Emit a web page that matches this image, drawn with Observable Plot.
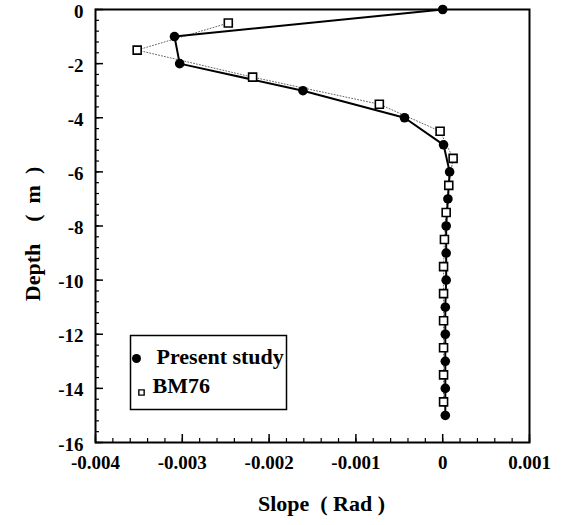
<!DOCTYPE html>
<html><head><meta charset="utf-8">
<script src="https://cdn.jsdelivr.net/npm/d3@7"></script>
<script src="https://cdn.jsdelivr.net/npm/@observablehq/plot@0.6"></script>
<style>body{margin:0;background:#fff}</style>
</head><body><div id="chart"></div>
<script>
// Present study (filled circles, solid line)
const presentDepth = [0, -1, -2, -3, -4, -5, -6, -7, -8, -9, -10, -11, -12, -13, -14, -15];
const presentSlope = [0, -0.00309, -0.00303, -0.00161, -0.00044, 0.00001, 0.00008, 0.00006, 0.00004, 0.00004, 0.00004, 0.00003, 0.00003, 0.00003, 0.00003, 0.00003];
// BM76 (open squares, dotted line)
const bmDepth = [-0.5, -1.5, -2.5, -3.5, -4.5, -5.5, -6.5, -7.5, -8.5, -9.5, -10.5, -11.5, -12.5, -13.5, -14.5];
const bmSlope = [-0.00247, -0.00352, -0.00219, -0.00073, -0.00003, 0.00012, 0.00007, 0.00004, 0.00002, 0.00001, 0.00001, 0.00001, 0.00001, 0.00001, 0.00001];

const xTicks = [-0.004, -0.003, -0.002, -0.001, 0, 0.001];
const xTickLabels = ["-0.004", "-0.003", "-0.002", "-0.001", "0", "0.001"];
const yTicks = [0, -2, -4, -6, -8, -10, -12, -14, -16];
const yTickLabels = ["0", "-2", "-4", "-6", "-8", "-10", "-12", "-14", "-16"];
const seriesNames = ["Present study", "BM76"];
const xTitle = "Slope\u2002( Rad )";
const yTitle = "Depth\u2003(\u2002m\u2002)";

const present = presentDepth.map((d, i) => ({depth: d, slope: presentSlope[i]}));
const bm = bmDepth.map((d, i) => ({depth: d, slope: bmSlope[i]}));

const W = 572, H = 525;
const mL = 95, mR = 43, mT = 9, mB = 83;
const pw = W - mL - mR, ph = H - mT - mB;

const xMinor = d3.range(-20, 6).map(i => +(i * 0.0002).toFixed(5));
const yMinor = d3.range(0, 41).map(i => +(-i * 0.4).toFixed(2));

const xLab = new Map(xTicks.map((t, i) => [t, xTickLabels[i]]));
const yLab = new Map(yTicks.map((t, i) => [t, yTickLabels[i]]));

const font = "'Liberation Serif', 'Times New Roman', serif";

const plot = Plot.plot({
  width: W, height: H,
  marginLeft: mL, marginRight: mR, marginTop: mT, marginBottom: mB,
  style: {fontFamily: font, fontWeight: "bold", fontSize: "20px", background: "#fff", color: "#000"},
  x: {domain: [-0.004, 0.001]},
  y: {domain: [-16, 0]},
  marks: [
    Plot.tickX(xMinor, {x: d => d, insetTop: ph - 4, stroke: "#000", strokeWidth: 1.2}),
    Plot.tickX(xTicks, {x: d => d, insetTop: ph - 8, stroke: "#000", strokeWidth: 1.5}),
    Plot.tickY(yMinor, {y: d => d, insetRight: pw - 4, stroke: "#000", strokeWidth: 1.2}),
    Plot.tickY(yTicks, {y: d => d, insetRight: pw - 8, stroke: "#000", strokeWidth: 1.5}),
    Plot.axisX(xTicks, {tickSize: 0, tickPadding: 13, tickFormat: d => xLab.get(d), label: null, fontSize: 19, fill: "#000"}),
    Plot.axisY(yTicks, {tickSize: 0, tickPadding: 12, dy: 2, tickFormat: d => yLab.get(d), label: null, fontSize: 19, fill: "#000"}),
    Plot.text([xTitle], {frameAnchor: "bottom", dx: 9, dy: 61, lineAnchor: "middle", textAnchor: "middle", fontSize: 22, fill: "#000", text: d => d}),
    Plot.text([yTitle], {frameAnchor: "left", dx: -63, dy: 8, rotate: -90, lineAnchor: "middle", textAnchor: "middle", fontSize: 22, fill: "#000", text: d => d}),
    Plot.line(bm, {x: "slope", y: "depth", stroke: "#666", strokeWidth: 1, strokeDasharray: "1,2"}),
    Plot.line(present, {x: "slope", y: "depth", stroke: "#000", strokeWidth: 2}),
    Plot.dot(bm, {x: "slope", y: "depth", symbol: "square", r: 4.5, fill: "#fff", stroke: "#000", strokeWidth: 1.6}),
    Plot.dot(present, {x: "slope", y: "depth", r: 4.8, fill: "#000"}),
    Plot.frame({stroke: "#000", strokeWidth: 2}),
    // legend
    Plot.frame({insetLeft: 35, insetRight: 243, insetTop: 326, insetBottom: 33, stroke: "#000", strokeWidth: 1.5}),
    Plot.dot([0], {frameAnchor: "top-left", dx: 41, dy: 349, r: 4.5, fill: "#000"}),
    Plot.dot([0], {frameAnchor: "top-left", dx: 46, dy: 383, symbol: "square", r: 3, fill: "#fff", stroke: "#000", strokeWidth: 1.4}),
    Plot.text([seriesNames[0]], {frameAnchor: "top-left", dx: 61, dy: 347, lineAnchor: "middle", textAnchor: "start", fontSize: 22, fill: "#000", text: d => d}),
    Plot.text([seriesNames[1]], {frameAnchor: "top-left", dx: 57, dy: 376, lineAnchor: "middle", textAnchor: "start", fontSize: 22, fill: "#000", text: d => d})
  ]
});
document.getElementById("chart").append(plot);
</script>
</body></html>
